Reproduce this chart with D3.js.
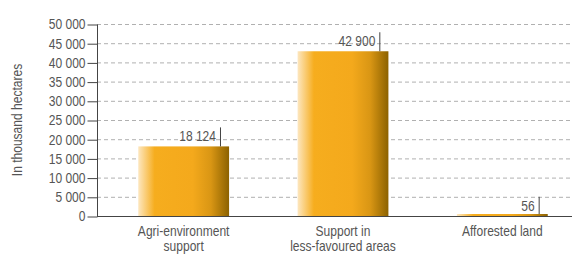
<!DOCTYPE html>
<html>
<head>
<meta charset="utf-8">
<script src="https://cdn.jsdelivr.net/npm/d3@7"></script>
<style>
  body { margin: 0; background: #fff; }
  text { font-family: "Liberation Sans", Arial, sans-serif; fill: #555; }
</style>
</head>
<body>
<div id="chart"></div>
<script>
// data
var categories = [["Agri-environment", "support"], ["Support in", "less-favoured areas"], ["Afforested land"]];
var values = [18124, 42900, 56];
var valueLabels = ["18 124", "42 900", "56"];
var yTicks = [0, 5000, 10000, 15000, 20000, 25000, 30000, 35000, 40000, 45000, 50000];

var svgWidth = 572, svgHeight = 257;
var sx = 0.86; // horizontal squeeze to imitate a condensed face

var svg = d3.select("#chart").append("svg")
  .attr("width", svgWidth)
  .attr("height", svgHeight);

// squeeze text horizontally keeping its anchor point
function condense(sel) {
  sel.each(function() {
    var t = d3.select(this);
    var x = +t.attr("x") || 0;
    t.attr("x", x / sx);
    var tr = t.attr("transform") || "";
    t.attr("transform", tr + ` scale(${sx},1)`);
    t.selectAll("tspan").each(function() {
      var ts = d3.select(this);
      ts.attr("x", (+ts.attr("x") || 0) / sx);
    });
  });
}

var defs = svg.append("defs");
var grad = defs.append("linearGradient").attr("id", "barGrad")
  .attr("x1", "0%").attr("x2", "100%").attr("y1", "0%").attr("y2", "0%");
grad.append("stop").attr("offset", "0%").attr("stop-color", "#fde7c0");
grad.append("stop").attr("offset", "18%").attr("stop-color", "#f6ad1e");
grad.append("stop").attr("offset", "60%").attr("stop-color", "#f4a91c");
grad.append("stop").attr("offset", "80%").attr("stop-color", "#d99614");
grad.append("stop").attr("offset", "100%").attr("stop-color", "#8c6200");

var x0 = 97, yTop = 24, yBottom = 216;
var xScale = d3.scaleBand().domain(d3.range(values.length))
  .range([104, 582]).paddingInner(0.43).paddingOuter(0.215);
var yScale = d3.scaleLinear().domain([0, 50000]).range([yBottom, yTop]);

// gridlines
svg.append("g").selectAll("line")
  .data(yTicks.slice(1))
  .enter().append("line")
  .attr("x1", x0).attr("x2", svgWidth)
  .attr("y1", d => yScale(d) + 0.5).attr("y2", d => yScale(d) + 0.5)
  .attr("stroke", "#b0b0b0")
  .attr("stroke-dasharray", "4,3");

// y axis
var yAxis = d3.axisLeft(yScale).tickValues(yTicks).tickSize(10).tickPadding(2)
  .tickFormat(d => d3.format(",")(d).replace(/,/g, " "));
var yg = svg.append("g").attr("transform", `translate(${x0 + 0.5}, 0.5)`).call(yAxis);
yg.select(".domain").attr("stroke", "#444").attr("d", `M0,${yTop}V${yBottom}`);
yg.selectAll(".tick line").attr("stroke", "#444");
yg.selectAll(".tick text")
  .style("font-size", "14px")
  .style("font-family", "'Liberation Sans', Arial, sans-serif")
  .attr("fill", "#555")
  .call(condense);

// bars (tiny values kept visible as a thin sliver)
svg.append("g").selectAll("rect")
  .data(values)
  .enter().append("rect")
  .attr("x", (d, i) => xScale(i))
  .attr("y", d => Math.min(yScale(d), yBottom - 2))
  .attr("width", xScale.bandwidth())
  .attr("height", d => Math.max(yBottom - yScale(d), 2))
  .attr("fill", "url(#barGrad)");

// x axis line
svg.append("line")
  .attr("x1", x0).attr("x2", svgWidth)
  .attr("y1", yBottom + 0.5).attr("y2", yBottom + 0.5)
  .attr("stroke", "#444");

// value labels with marker lines
var lineX = (i) => xScale(i) + xScale.bandwidth() * 0.9;
svg.append("g").selectAll("line")
  .data(values)
  .enter().append("line")
  .attr("x1", (d, i) => lineX(i) + 0.5).attr("x2", (d, i) => lineX(i) + 0.5)
  .attr("y1", d => yScale(d) - 19)
  .attr("y2", d => Math.min(yScale(d), yBottom - 2))
  .attr("stroke", "#444");

svg.append("g").selectAll("text")
  .data(values)
  .enter().append("text")
  .attr("x", (d, i) => lineX(i) - 4)
  .attr("y", d => yScale(d) - 5)
  .attr("text-anchor", "end")
  .style("font-size", "14px")
  .text((d, i) => valueLabels[i])
  .call(condense);

// category labels
svg.append("g").selectAll("text")
  .data(categories)
  .enter().append("text")
  .attr("x", (d, i) => xScale(i) + xScale.bandwidth() / 2)
  .attr("y", 236)
  .attr("text-anchor", "middle")
  .style("font-size", "14px")
  .each(function(d) {
    var t = d3.select(this);
    var cx = t.attr("x");
    t.selectAll("tspan")
      .data(d)
      .enter().append("tspan")
      .attr("x", cx)
      .attr("dy", (s, i) => i === 0 ? 0 : 15)
      .text(s => s);
  })
  .call(condense);

// y axis title
svg.append("text")
  .attr("transform", "rotate(-90)")
  .attr("x", -120)
  .attr("y", 22)
  .attr("text-anchor", "middle")
  .style("font-size", "14px")
  .text("In thousand hectares")
  .call(condense);
</script>
</body>
</html>
